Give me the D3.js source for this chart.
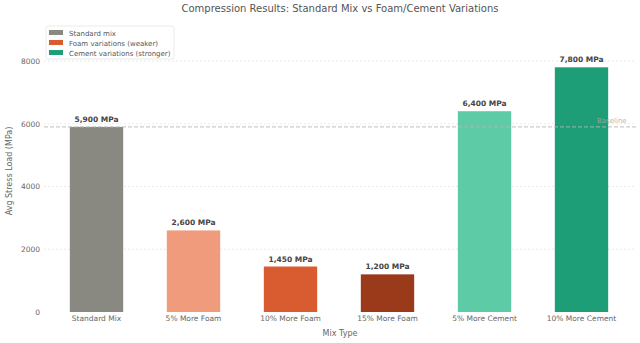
<!DOCTYPE html>
<html>
<head>
<meta charset="utf-8">
<script src="https://cdn.jsdelivr.net/npm/d3@7"></script>
<style>
  body { margin: 0; background: #fff; }
  text { font-family: "DejaVu Sans", sans-serif; }
</style>
</head>
<body>
<div id="chart"></div>
<script>
const categories = ["Standard Mix", "5% More Foam", "10% More Foam", "15% More Foam", "5% More Cement", "10% More Cement"];
const values = [5900, 2600, 1450, 1200, 6400, 7800];
const barColors = ["#8a8981", "#f09b7c", "#d95c31", "#9a3a1b", "#5ecba7", "#1d9e77"];
const yTicks = [0, 2000, 4000, 6000, 8000];
const baseline = 5900;
const legendLabels = ["Standard mix", "Foam variations (weaker)", "Cement variations (stronger)"];
const legendColors = ["#8a8981", "#d95c31", "#1d9e77"];

const W = 640, H = 343;
const svg = d3.select("#chart").append("svg").attr("width", W).attr("height", H);

const x = d3.scaleBand().domain(categories).range([48, 630]).paddingInner(0.45).paddingOuter(0.225);
const y = d3.scaleLinear().domain([0, 8970]).range([312, 30.6]);

// grid
svg.append("g").selectAll("line").data(yTicks.filter(d => d > 0)).enter().append("line")
  .attr("x1", 44).attr("x2", 636)
  .attr("y1", d => y(d)).attr("y2", d => y(d))
  .attr("stroke", "#dcdcdc").attr("stroke-width", 0.6).attr("stroke-dasharray", "2,2");

// y tick labels
const yAxis = svg.append("g").attr("transform", "translate(44,0)")
  .call(d3.axisLeft(y).tickValues(yTicks).tickFormat(d3.format("d")).tickSize(0).tickPadding(4));
yAxis.select(".domain").remove();
yAxis.selectAll("text").attr("font-size", 7.5).attr("fill", "#666").attr("font-family", "DejaVu Sans");

// bars
svg.append("g").selectAll("rect").data(values).enter().append("rect")
  .attr("x", (d, i) => x(categories[i]))
  .attr("width", x.bandwidth())
  .attr("y", d => y(d))
  .attr("height", d => y(0) - y(d))
  .attr("fill", (d, i) => barColors[i]);

// baseline
svg.append("line")
  .attr("x1", 44).attr("x2", 636)
  .attr("y1", y(baseline)).attr("y2", y(baseline))
  .attr("stroke", "#b5b5b5").attr("stroke-width", 0.9).attr("stroke-dasharray", "4,2");
svg.append("text")
  .attr("x", 597).attr("y", y(baseline) - 4)
  .attr("font-size", 7).attr("fill", "#aaa").attr("opacity", 0.8)
  .text("Baseline");

// value labels
svg.append("g").selectAll("text").data(values).enter().append("text")
  .attr("x", (d, i) => x(categories[i]) + x.bandwidth() / 2)
  .attr("y", d => y(d) - 5)
  .attr("text-anchor", "middle")
  .attr("font-size", 7.5).attr("font-weight", "bold").attr("fill", "#444")
  .text(d => d3.format(",")(d) + " MPa");

// x tick labels
const xAxis = svg.append("g").attr("transform", "translate(0,312)")
  .call(d3.axisBottom(x).tickSize(0).tickPadding(4));
xAxis.select(".domain").remove();
xAxis.selectAll("text").attr("font-size", 7.5).attr("fill", "#666").attr("font-family", "DejaVu Sans");

// axis titles
svg.append("text").attr("x", 340).attr("y", 336).attr("text-anchor", "middle")
  .attr("font-size", 8).attr("fill", "#666").text("Mix Type");
svg.append("text").attr("transform", "translate(12,171) rotate(-90)").attr("text-anchor", "middle")
  .attr("font-size", 8).attr("fill", "#666").text("Avg Stress Load (MPa)");

// title
svg.append("text").attr("x", 340).attr("y", 12).attr("text-anchor", "middle")
  .attr("font-size", 10).attr("fill", "#555").text("Compression Results: Standard Mix vs Foam/Cement Variations");

// legend
const lg = svg.append("g").attr("transform", "translate(46,26)");
lg.append("rect").attr("width", 128).attr("height", 33).attr("rx", 2)
  .attr("fill", "#fff").attr("fill-opacity", 0.8).attr("stroke", "#ddd").attr("stroke-width", 0.6);
legendLabels.forEach((t, i) => {
  lg.append("rect").attr("x", 3).attr("y", 4 + i * 10).attr("width", 14).attr("height", 5).attr("fill", legendColors[i]);
  lg.append("text").attr("x", 23).attr("y", 9.5 + i * 10).attr("font-size", 7).attr("fill", "#555").text(t);
});
</script>
</body>
</html>
